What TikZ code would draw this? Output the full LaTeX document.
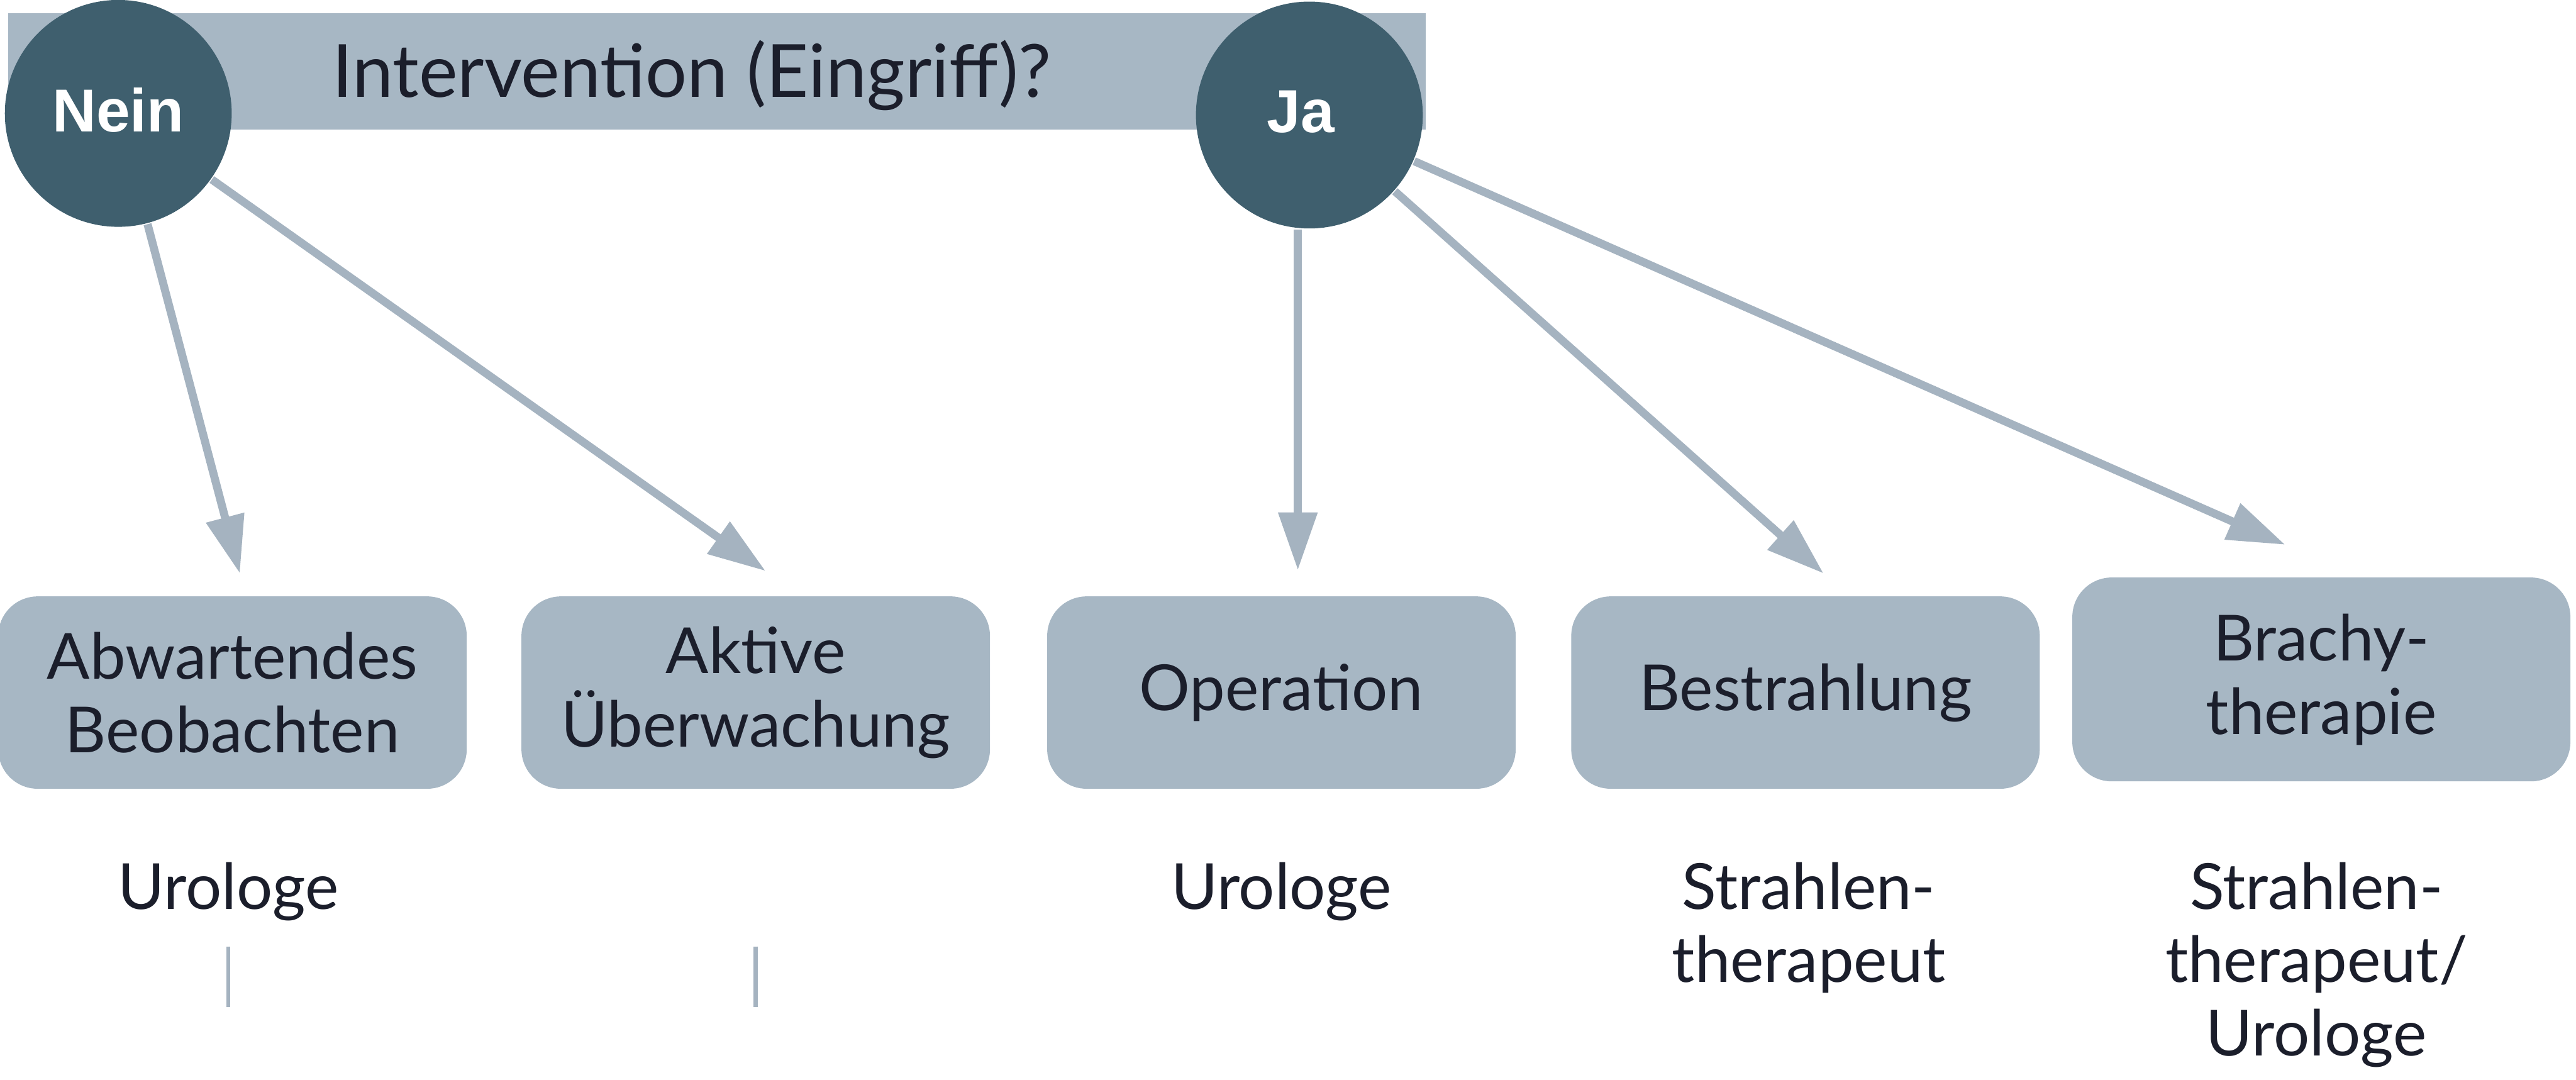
\documentclass[tikz,border=0pt]{standalone}
\usepackage{fontspec}
\setmainfont{Lato}
\newfontfamily\helv{Liberation Sans}
\usetikzlibrary{arrows.meta}
\definecolor{barblue}{HTML}{A7B7C4}
\definecolor{darkslate}{HTML}{3F5F6E}
\definecolor{arrowgray}{HTML}{A5B3C0}
\definecolor{textdark}{HTML}{1B1E2B}

\begin{document}
\begin{tikzpicture}[x=0.01cm, y=-0.01cm,
    font=\fontsize{11}{12.7}\selectfont, text=textdark,
    answer/.style={circle, fill=darkslate, minimum size=1.38cm, inner sep=0pt,
        text=white, font=\helv\bfseries\fontsize{10.5}{12}\selectfont},
    option/.style={rounded corners=0.24cm, fill=barblue, minimum width=2.85cm,
        minimum height=1.17cm, align=center},
    who/.style={align=center, anchor=north, inner sep=0pt},
    arr/.style={draw=arrowgray, line width=1.4pt, -{Triangle[length=10pt,width=6.5pt]}},
    tick/.style={draw=arrowgray, line width=0.7pt}]
    \useasboundingbox (0,0) rectangle (1568,657);
    \fill[barblue] (5,8) rectangle (868,79);
    \node[anchor=base, font=\fontsize{12.7}{15}\selectfont] (0) at (421,59) {Intervention (Eingriff)?};
    \node[answer] (1) at (72,69) {\raisebox{1.2pt}{Nein}};
    \node[answer] (2) at (797,70) {\hspace*{-3pt}\raisebox{1.2pt}{Ja}};
    \node[option] (3) at (141.5,421.5) {Abwartendes\\Beobachten};
    \node[option] (4) at (460,421.5) {Aktive\\Überwachung};
    \node[option] (5) at (780,421.5) {Operation};
    \node[option] (6) at (1099,421.5) {Bestrahlung};
    \node[option, minimum width=3.03cm, minimum height=1.24cm] (7) at (1413,413.5) {Brachy-\\therapie};
    \node[who] (d3) at (139,524) {Urologe};
    \node[who] (d5) at (780,524) {Urologe};
    \node[who] (d6) at (1101,524) {Strahlen-\\therapeut};
    \node[who] (d7) at (1410,524) {Strahlen-\\therapeut/\\Urologe};
    \coordinate (t1) at (146,349);
    \coordinate (t2) at (466,347.5);
    \coordinate (t3) at (790,347);
    \coordinate (t4) at (1110,349);
    \coordinate (t5) at (1391,331.5);
    \draw[arr] (1) -- (t1);
    \draw[arr] (1) -- (t2);
    \draw[arr] (2.south -| t3) -- (t3);
    \draw[arr] (2) -- (t4);
    \draw[arr] (2) -- (t5);
    \coordinate (k3a) at (139,576);
    \coordinate (k3b) at (139,613);
    \coordinate (k4a) at (460,576);
    \coordinate (k4b) at (460,613);
    \draw[tick] (k3a) -- (k3b);
    \draw[tick] (k4a) -- (k4b);
\end{tikzpicture}
\end{document}
